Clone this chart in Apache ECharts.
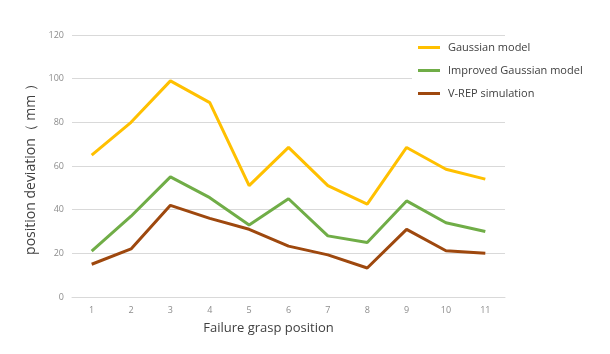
<!DOCTYPE html>
<html>
<head>
<meta charset="utf-8">
<script src="https://cdn.jsdelivr.net/npm/echarts@6/dist/echarts.min.js"></script>
<style>
html, body { margin: 0; padding: 0; background: #fff; }
#main { width: 610px; height: 354px; }
</style>
</head>
<body>
<div id="main"></div>
<script>
var categories = ['1', '2', '3', '4', '5', '6', '7', '8', '9', '10', '11'];
var seriesNames = ['Gaussian model', 'Improved Gaussian model', 'V-REP simulation'];
var gaussian = [65, 80, 99, 89, 51, 68.5, 51, 42.5, 68.5, 58.5, 54];
var improved = [21, 37, 55, 45.5, 33, 45, 28, 25, 44, 34, 30];
var vrep = [15, 22, 42, 36, 31, 23.3, 19.3, 13.3, 31, 21.2, 20];
var colors = ['#FFC000', '#70AD47', '#9E480E'];

var chart = echarts.init(document.getElementById('main'));

var font = '"Open Sans", "Noto Sans", sans-serif';

var option = {
    color: colors,
    animation: false,
    grid: { left: 72, right: 105, top: 35, bottom: 57 },
    legend: {
        orient: 'vertical',
        left: 412,
        top: 40,
        itemWidth: 22,
        itemHeight: 3,
        itemGap: 12,
        icon: 'rect',
        backgroundColor: '#fff',
        padding: [2, 2, 2, 6],
        textStyle: { fontFamily: font, fontSize: 11, color: '#404040', padding: [0, 0, 0, 3] },
        data: seriesNames
    },
    xAxis: {
        type: 'category',
        data: categories,
        boundaryGap: true,
        name: 'Failure grasp position',
        nameLocation: 'middle',
        nameGap: 25,
        nameTextStyle: { fontFamily: font, fontSize: 13, color: '#404040', padding: [0, 40, 0, 0] },
        axisLine: { lineStyle: { color: '#d9d9d9', width: 1 } },
        axisTick: { show: false },
        axisLabel: { fontFamily: font, fontSize: 9, color: '#8c8c8c', margin: 9 }
    },
    yAxis: {
        type: 'value',
        min: 0,
        max: 120,
        interval: 20,
        name: 'position deviation（ mm ）',
        nameLocation: 'middle',
        nameGap: 23,
        nameTextStyle: { fontFamily: font, fontSize: 14, color: '#404040' },
        axisLine: { show: false },
        axisTick: { show: false },
        axisLabel: { fontFamily: font, fontSize: 9, color: '#8c8c8c', margin: 8 },
        splitLine: { lineStyle: { color: '#d9d9d9', width: 1 } }
    },
    series: [
        { name: seriesNames[0], type: 'line', data: gaussian, showSymbol: false, lineStyle: { width: 3 } },
        { name: seriesNames[1], type: 'line', data: improved, showSymbol: false, lineStyle: { width: 3 } },
        { name: seriesNames[2], type: 'line', data: vrep, showSymbol: false, lineStyle: { width: 3 } }
    ]
};

chart.setOption(option);
</script>
</body>
</html>
